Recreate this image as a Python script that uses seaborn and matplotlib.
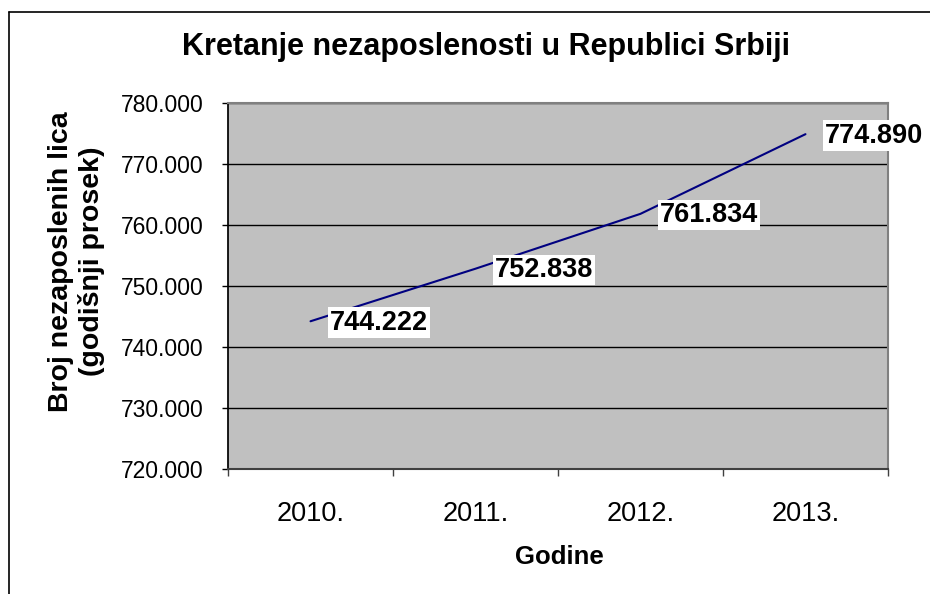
import matplotlib
matplotlib.use("Agg")
import matplotlib.pyplot as plt
import matplotlib.ticker as mticker
from matplotlib.lines import Line2D
import pandas as pd
import seaborn as sns

# Data
years = ["2010.", "2011.", "2012.", "2013."]
unemployed = [744222, 752838, 761834, 774890]
labels = ["744.222", "752.838", "761.834", "774.890"]

df = pd.DataFrame({"pos": range(len(years)), "val": unemployed})

sns.set_theme(style="white")
plt.rcParams["font.family"] = ["Liberation Sans", "DejaVu Sans"]
plt.rcParams["text.color"] = "black"
plt.rcParams["xtick.color"] = "black"
plt.rcParams["ytick.color"] = "black"

fig = plt.figure(figsize=(9.3, 5.94), dpi=100)
ax = fig.add_axes([0.2452, 0.2104, 0.7096, 0.6162])
ax.set_facecolor("#c0c0c0")

sns.lineplot(data=df, x="pos", y="val", ax=ax, color="#000080", linewidth=1.5, zorder=3)

ax.set_xlim(-0.5, 3.5)
ax.set_ylim(720000, 780000)
ax.yaxis.set_major_locator(mticker.MultipleLocator(10000))
ax.yaxis.set_major_formatter(mticker.FuncFormatter(lambda v, p: f"{v:,.0f}".replace(",", ".")))
ax.grid(axis="y", color="black", linewidth=1)
ax.set_axisbelow(True)

# category labels centred, ticks on category boundaries
ax.set_xticks([-0.5, 0.5, 1.5, 2.5, 3.5])
ax.set_xticklabels([])
ax.set_xticks(list(df["pos"]), minor=True)
ax.set_xticklabels(years, minor=True, fontsize=19.5)
ax.tick_params(axis="x", which="minor", length=0, pad=23)
ax.tick_params(axis="x", which="major", direction="out", length=5, width=1, color="#404040", bottom=True)
ax.tick_params(axis="y", direction="out", length=4.5, width=1, color="black", left=True, labelsize=16.5, pad=13)

for side in ["top", "right"]:
    ax.spines[side].set_color("#808080")
    ax.spines[side].set_linewidth(1.5)
ax.spines["left"].set_color("black")
ax.spines["bottom"].set_color("#404040")
ax.spines["bottom"].set_linewidth(1.5)

for i, (v, t) in enumerate(zip(unemployed, labels)):
    ax.annotate(t, (i, v), xytext=(14, -1), textcoords="offset points",
                ha="left", va="center", fontsize=19.5, fontweight="bold", color="black",
                bbox=dict(boxstyle="square,pad=0.08", fc="white", ec="none"),
                annotation_clip=False, zorder=5)

ax.set_xlabel("")
ax.set_ylabel("")
fig.text(0.523, 0.921, "Kretanje nezaposlenosti u Republici Srbiji", ha="center", va="center",
         fontsize=22, fontweight="bold")
fig.text(0.601, 0.062, "Godine", ha="center", va="center", fontsize=18.5, fontweight="bold")
fig.text(0.082, 0.56, "Broj nezaposlenih lica\n(godišnji prosek)", ha="center", va="center",
         rotation=90, fontsize=20.5, fontweight="bold", linespacing=1.2)

# chart area border (partly cropped in the original)
fig.add_artist(Line2D([0.0097, 1.0], [0.98, 0.98], color="black", linewidth=1.2))
fig.add_artist(Line2D([0.0097, 0.0097], [0.0, 0.98], color="black", linewidth=1.2))

fig.savefig("out.png", dpi=100)
